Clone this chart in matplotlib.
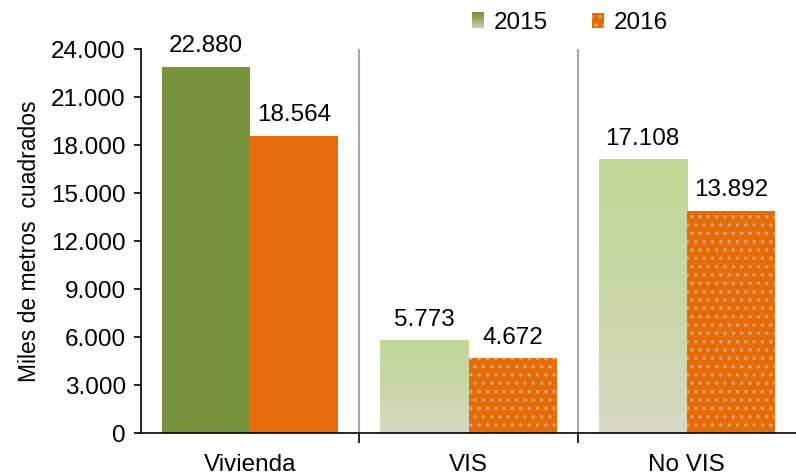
import matplotlib
matplotlib.use("Agg")
import matplotlib.pyplot as plt
import numpy as np
from matplotlib.patches import Patch, Rectangle
from matplotlib.legend_handler import HandlerBase
from matplotlib.colors import to_rgb

plt.rcParams['font.family'] = ['Liberation Sans', 'DejaVu Sans']
plt.rcParams['hatch.linewidth'] = 1.2

categories = ['Vivienda', 'VIS', 'No VIS']
series_names = ['2015', '2016']
values_2015 = [22880, 5773, 17108]
values_2016 = [18564, 4672, 13892]
yticks = [0, 3000, 6000, 9000, 12000, 15000, 18000, 21000, 24000]

GREEN_DARK = '#77933C'
GREEN_TOP = '#C4D79B'
GREEN_BOTTOM = '#D9D9C6'
ORANGE = '#E46C0A'
DOT = '#F3A66E'
FS = 17.5


def fmt(v):
    return f"{int(v):,}".replace(',', '.')


def gradient_bar(ax, x, w, h):
    top = np.array(to_rgb(GREEN_TOP))
    bot = np.array(to_rgb(GREEN_BOTTOM))
    t = np.linspace(0, 1, 200) ** 2  # 0 at top, 1 at bottom
    img = (top[None, :] * (1 - t[:, None]) + bot[None, :] * t[:, None])[:, None, :]
    ax.imshow(img, extent=(x - w / 2, x + w / 2, 0, h), origin='upper',
              aspect='auto', zorder=2, interpolation='bilinear')


class GradientHandler(HandlerBase):
    def create_artists(self, legend, orig_handle, xdescent, ydescent,
                       width, height, fontsize, trans):
        top = np.array(to_rgb(GREEN_DARK))
        bot = np.array(to_rgb('#C9CDA8'))
        n = 12
        arts = []
        for i in range(n):
            t = i / (n - 1)
            c = top * t + bot * (1 - t)
            r = Rectangle((-xdescent, -ydescent + height * i / n), width, height / n + 0.3,
                          facecolor=c, edgecolor='none', transform=trans)
            arts.append(r)
        return arts


fig = plt.figure(figsize=(7.96, 4.75), dpi=100)
ax = fig.add_axes([141 / 796, 42 / 475, 655 / 796, 384 / 475])

x = np.arange(len(categories))
w = 0.404

for i in range(len(categories)):
    x15 = x[i] - w / 2
    x16 = x[i] + w / 2
    if i == 0:
        ax.bar(x15, values_2015[i], w, color=GREEN_DARK, zorder=2)
        ax.bar(x16, values_2016[i], w, color=ORANGE, zorder=2)
    else:
        gradient_bar(ax, x15, w, values_2015[i])
        ax.bar(x16, values_2016[i], w, facecolor=ORANGE, edgecolor=DOT,
               hatch='..', linewidth=0, zorder=2)

for i in range(len(categories)):
    ax.annotate(fmt(values_2015[i]), (x[i] - w / 2, values_2015[i]),
                xytext=(0, 7), textcoords='offset points',
                ha='center', va='bottom', fontsize=FS)
    ax.annotate(fmt(values_2016[i]), (x[i] + w / 2, values_2016[i]),
                xytext=(0, 7), textcoords='offset points',
                ha='center', va='bottom', fontsize=FS)

for b in [0.5, 1.5]:
    ax.axvline(b, color='#A6A6A6', lw=1.5, zorder=1)

ax.set_xlim(-0.5, 2.5)
ax.set_ylim(0, 24000)
ax.set_yticks(yticks)
ax.set_yticklabels([fmt(v) for v in yticks], fontsize=FS)
ax.set_ylabel('Miles de metros  cuadrados', fontsize=16.5, labelpad=7)

ax.set_xticks([0.5, 1.5])
ax.set_xticklabels([])
ax.set_xticks(x, minor=True)
ax.set_xticklabels(categories, minor=True, fontsize=FS)
ax.tick_params(axis='x', which='minor', length=0, pad=15)
ax.tick_params(axis='x', which='major', length=7, width=1.2, direction='out')
ax.tick_params(axis='y', length=5, width=1.2, direction='out', pad=6)

for s in ['top', 'right']:
    ax.spines[s].set_visible(False)
for s in ['left', 'bottom']:
    ax.spines[s].set_linewidth(1.2)

handles = [Patch(facecolor=GREEN_DARK), Patch(facecolor=ORANGE, edgecolor=DOT, hatch='..', linewidth=0)]
leg = fig.legend(handles, series_names, loc='center', bbox_to_anchor=(570 / 796, 1 - 23 / 475),
                 ncol=2, frameon=False, fontsize=FS, handlelength=0.5, handleheight=0.6,
                 handletextpad=0.4, columnspacing=1.8,
                 handler_map={handles[0]: GradientHandler()})

fig.savefig('out.png', dpi=100)
